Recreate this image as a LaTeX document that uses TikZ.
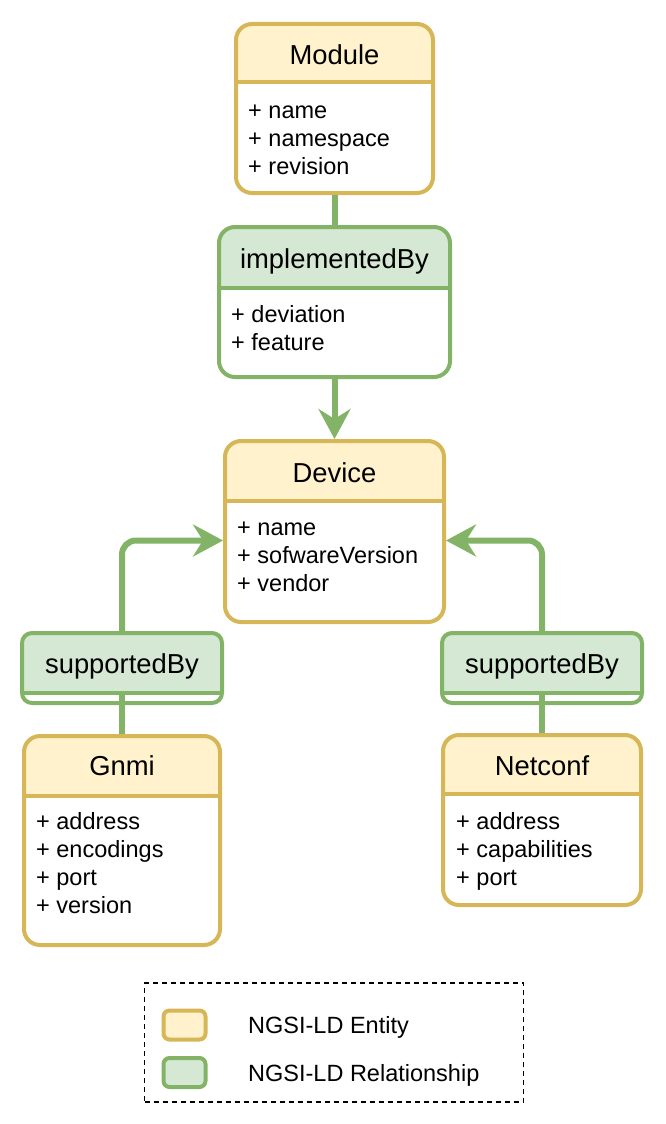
\documentclass[tikz,border=0pt]{standalone}
\usepackage{fontspec}
\setmainfont{Liberation Sans}
\usetikzlibrary{arrows.meta}
\definecolor{entfill}{HTML}{FFF2CC}
\definecolor{entline}{HTML}{D6B656}
\definecolor{relfill}{HTML}{D5E8D4}
\definecolor{relline}{HTML}{82B366}
\tikzset{
  titletext/.style={anchor=base, inner sep=0pt, font=\fontsize{27.4}{32}\selectfont},
  attrtext/.style={anchor=base west, inner sep=0pt, font=\fontsize{23.5}{28}\selectfont},
  relline/.style={draw=relline, line width=6pt, rounded corners=14pt},
  relarrow/.style={relline, -{Stealth[length=30pt, width=32pt, inset=10pt]}},
}
% #1 name, #2 x1, #3 y1, #4 x2, #5 y2, #6 header y, #7 fill, #8 line, #9 radius
\newcommand{\umlframe}[9]{%
  \begin{scope}
    \clip (#2,#3) rectangle (#4,#6);
    \fill[#7, rounded corners=#9] (#2,#3) rectangle (#4,#5);
  \end{scope}
  \begin{scope}
    \clip (#2,#6) rectangle (#4,#5);
    \fill[white, rounded corners=#9] (#2,#3) rectangle (#4,#5);
  \end{scope}
  \draw[#8, line width=4pt] (#2,#6) -- (#4,#6);
  \node[draw=#8, line width=4pt, rounded corners=#9, inner sep=0pt, outer sep=2pt,
        minimum width={(#4-#2)*1pt}, minimum height={(#5-#3)*1pt}]
        (#1) at ({(#2+#4)/2},{(#3+#5)/2}) {};
}
\begin{document}
\begin{tikzpicture}[x=1pt,y=-1pt]
\useasboundingbox (0,0) rectangle (666,1124);

% Module
\umlframe{module}{236}{24}{433}{193}{82}{entfill}{entline}{16pt}
\node[titletext] (moduleT) at (334.5,64) {Module};
\node[attrtext] (m1) at (248,118) {+ name};
\node[attrtext] (m2) at (248,146) {+ namespace};
\node[attrtext] (m3) at (248,174) {+ revision};

% implementedBy
\umlframe{impl}{219}{227}{450}{377}{288}{relfill}{relline}{16pt}
\node[titletext] (implT) at (334.5,268) {implementedBy};
\node[attrtext] (i1) at (231,322) {+ deviation};
\node[attrtext] (i2) at (231,350) {+ feature};

% Device
\umlframe{device}{225}{441}{444}{622}{501}{entfill}{entline}{16pt}
\node[titletext] (deviceT) at (334.5,482) {Device};
\node[attrtext] (d1) at (237,535) {+ name};
\node[attrtext] (d2) at (237,563) {+ sofwareVersion};
\node[attrtext] (d3) at (237,591) {+ vendor};

% supportedBy left
\umlframe{sbl}{22}{633}{222}{703}{693}{relfill}{relline}{10pt}
\node[titletext] (sblT) at (122,673) {supportedBy};
\coordinate (sblh) at (122,693);

% supportedBy right
\umlframe{sbr}{442}{633}{642}{703}{693}{relfill}{relline}{10pt}
\node[titletext] (sbrT) at (542,673) {supportedBy};
\coordinate (sbrh) at (542,693);

% Gnmi
\umlframe{gnmi}{24}{736}{220}{945}{796}{entfill}{entline}{16pt}
\node[titletext] (gnmiT) at (122,775) {Gnmi};
\node[attrtext] (g1) at (36,829) {+ address};
\node[attrtext] (g2) at (36,857) {+ encodings};
\node[attrtext] (g3) at (36,885) {+ port};
\node[attrtext] (g4) at (36,913) {+ version};

% Netconf
\umlframe{netconf}{443}{735}{641}{905}{794}{entfill}{entline}{16pt}
\node[titletext] (netconfT) at (542,775) {Netconf};
\node[attrtext] (n1) at (456,829) {+ address};
\node[attrtext] (n2) at (456,857) {+ capabilities};
\node[attrtext] (n3) at (456,885) {+ port};

% connectors
\draw[relline] (module.south) -- (impl.north);
\draw[relarrow] (impl.south) -- (device.north);
\draw[relarrow] (sbl.north) |- ([yshift=-9pt]device.west);
\draw[relarrow] (sbr.north) |- ([yshift=-9pt]device.east);
\draw[relline] (sblh) -- (gnmi.north);
\draw[relline] (sbrh) -- (netconf.north);

% legend
\node[draw=black, line width=1.8pt, dash pattern=on 5pt off 4pt, inner sep=0pt,
      minimum width=379pt, minimum height=119pt] (legend) at (334,1042.5) {};
\node[draw=entline, fill=entfill, line width=4pt, rounded corners=6pt, inner sep=0pt,
      minimum width=42pt, minimum height=29pt] (legE) at (184.5,1025) {};
\node[draw=relline, fill=relfill, line width=4pt, rounded corners=6pt, inner sep=0pt,
      minimum width=42pt, minimum height=29pt] (legR) at (184.5,1072.5) {};
\node[attrtext] (legEt) at (248,1033) {NGSI-LD Entity};
\node[attrtext] (legRt) at (248,1081.5) {NGSI-LD Relationship};
\end{tikzpicture}
\end{document}
